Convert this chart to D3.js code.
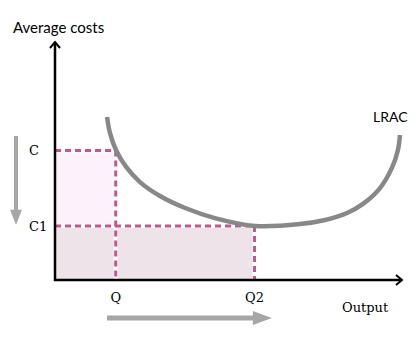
<!DOCTYPE html>
<html>
<head>
<meta charset="utf-8">
<script src="https://cdn.jsdelivr.net/npm/d3@7/dist/d3.min.js"></script>
<style>
  body { margin: 0; background: #fff; }
  svg text { fill: #000; }
  .serif { font-family: "DejaVu Serif", "Liberation Serif", serif; font-size: 13px; }
  .sans { font-family: Lato, "Open Sans", sans-serif; font-size: 14px; }
</style>
</head>
<body>
<script>
// quantities and cost levels (data units)
var qLabels = ["Q", "Q2"];
var qValues = [2.1, 6.9];
var cLabels = ["C", "C1"];
var cValues = [5.4, 2.25];

// LRAC curve
var lracX = [1.80, 1.90, 2.11, 2.46, 2.94, 3.63, 4.50, 5.53, 6.92, 8.47, 9.34, 10.10, 10.65, 11.24, 11.65, 11.86, 11.93];
var lracY = [6.79, 6.13, 5.42, 4.71, 4.08, 3.50, 3.00, 2.58, 2.25, 2.33, 2.50, 2.79, 3.17, 3.83, 4.67, 5.42, 6.04];

var width = 416,
    height = 337;

var svg = d3.select("body")
    .append("svg")
    .attr("width", width)
    .attr("height", height);

var x = d3.scaleLinear().domain([0, 12]).range([55, 402]);
var y = d3.scaleLinear().domain([0, 10]).range([280, 40]);

var defs = svg.append("defs");
defs.append("filter")
    .attr("id", "soft")
    .attr("x", "-10%").attr("y", "-10%")
    .attr("width", "120%").attr("height", "120%")
    .append("feGaussianBlur")
    .attr("stdDeviation", 0.7);

// shaded areas
svg.append("rect")
    .attr("x", x(0))
    .attr("y", y(cValues[0]))
    .attr("width", x(qValues[0]) - x(0))
    .attr("height", y(cValues[1]) - y(cValues[0]))
    .attr("fill", "#fdf1fc");
svg.append("rect")
    .attr("x", x(0))
    .attr("y", y(cValues[1]))
    .attr("width", x(qValues[1]) - x(0))
    .attr("height", y(0) - y(cValues[1]))
    .attr("fill", "#efe3ea");

// dashed guide lines: [x1, y1, x2, y2] in data units
var guides = [
  [0, cValues[0], qValues[0], cValues[0]],
  [qValues[0], cValues[0], qValues[0], 0],
  [0, cValues[1], qValues[1], cValues[1]],
  [qValues[1], cValues[1], qValues[1], 0]
];
svg.selectAll("line.under")
    .data(guides)
    .enter().append("line")
    .attr("class", "under")
    .attr("x1", function(d) { return x(d[0]); })
    .attr("y1", function(d) { return y(d[1]); })
    .attr("x2", function(d) { return x(d[2]); })
    .attr("y2", function(d) { return y(d[3]); })
    .attr("stroke", "#fff")
    .attr("stroke-width", 4);
svg.selectAll("line.guide")
    .data(guides)
    .enter().append("line")
    .attr("class", "guide")
    .attr("x1", function(d) { return x(d[0]); })
    .attr("y1", function(d) { return y(d[1]); })
    .attr("x2", function(d) { return x(d[2]); })
    .attr("y2", function(d) { return y(d[3]); })
    .attr("stroke", "#c2578d")
    .attr("stroke-width", 3)
    .attr("stroke-dasharray", "6,4");

// LRAC curve
var pts = lracX.map(function(v, i) { return [v, lracY[i]]; });
var line = d3.line()
    .x(function(d) { return x(d[0]); })
    .y(function(d) { return y(d[1]); })
    .curve(d3.curveCatmullRom);
svg.append("path")
    .attr("d", line(pts))
    .attr("fill", "none")
    .attr("stroke", "#888")
    .attr("stroke-width", 4.5)
    .attr("filter", "url(#soft)");

// axes
svg.append("path")
    .attr("d", "M" + x(0) + "," + (y(10) + 2) + "V" + y(0) + "H" + (x(12) - 1))
    .attr("fill", "none")
    .attr("stroke", "#000")
    .attr("stroke-width", 2.5);
svg.append("path")
    .attr("d", "M" + (x(0) - 5) + "," + (y(10) + 8) + "L" + x(0) + "," + (y(10) + 2) + "L" + (x(0) + 5) + "," + (y(10) + 8))
    .attr("fill", "none").attr("stroke", "#000").attr("stroke-width", 2);
svg.append("path")
    .attr("d", "M" + (x(12) - 6) + "," + (y(0) - 5) + "L" + x(12) + "," + y(0) + "L" + (x(12) - 6) + "," + (y(0) + 5))
    .attr("fill", "none").attr("stroke", "#000").attr("stroke-width", 2);

// tick labels
svg.selectAll("text.q")
    .data(qValues)
    .enter().append("text")
    .attr("class", "serif")
    .attr("x", function(d) { return x(d); })
    .attr("y", 302)
    .attr("text-anchor", "middle")
    .text(function(d, i) { return qLabels[i]; });
svg.selectAll("text.c")
    .data(cValues)
    .enter().append("text")
    .attr("class", "serif")
    .attr("x", 29)
    .attr("y", function(d) { return y(d) + 5; })
    .text(function(d, i) { return cLabels[i]; });

svg.append("text").attr("class", "sans").style("font-size", "15px").attr("x", 13).attr("y", 33).text("Average costs");
svg.append("text").attr("class", "serif").attr("x", 342).attr("y", 312).text("Output");
svg.append("text").attr("class", "sans").attr("x", 373).attr("y", 122).text("LRAC");

// grey direction arrows
var grey = "#a6a6a6";
svg.append("line")
    .attr("x1", 16).attr("y1", y(6.0))
    .attr("x2", 16).attr("y2", y(2.3) - 14)
    .attr("stroke", grey).attr("stroke-width", 4);
svg.append("path")
    .attr("d", "M" + 10 + "," + (y(2.3) - 15) + "L22," + (y(2.3) - 15) + "L16," + y(2.3) + "Z")
    .attr("fill", grey);
svg.append("line")
    .attr("x1", x(1.8)).attr("y1", 318)
    .attr("x2", x(7.5) - 18).attr("y2", 318)
    .attr("stroke", grey).attr("stroke-width", 5);
svg.append("path")
    .attr("d", "M" + (x(7.5) - 19) + ",311L" + (x(7.5) - 19) + ",325L" + x(7.5) + ",318Z")
    .attr("fill", grey);
</script>
</body>
</html>
